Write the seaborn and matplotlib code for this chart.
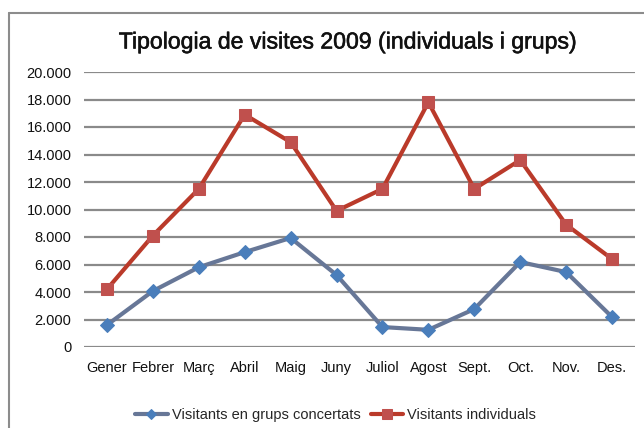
import matplotlib
matplotlib.use("Agg")
import matplotlib.pyplot as plt
from matplotlib.lines import Line2D
from matplotlib.ticker import FuncFormatter
import matplotlib.patheffects as pe
import seaborn as sns
import pandas as pd

months = ["Gener", "Febrer", "Març", "Abril", "Maig", "Juny", "Juliol",
          "Agost", "Sept.", "Oct.", "Nov.", "Des."]
grups = [1600, 4070, 5800, 6900, 7930, 5240, 1450, 1250, 2760, 6180, 5450, 2180]
individuals = [4200, 8100, 11500, 16900, 14900, 9900, 11500, 17800, 11500,
               13600, 8900, 6400]
series_names = ["Visitants en grups concertats", "Visitants individuals"]

sns.set_theme(style="white")
plt.rcParams["font.family"] = ["Liberation Sans", "DejaVu Sans"]

df = pd.DataFrame({
    "pos": list(range(len(months))) * 2,
    "value": grups + individuals,
    "serie": [series_names[0]] * len(months) + [series_names[1]] * len(months),
})

fig = plt.figure(figsize=(6.44, 4.28), dpi=100)
ax = fig.add_axes([84 / 644, (428 - 347) / 428, 551 / 644, 275 / 428])

styles = {
    series_names[0]: dict(color="#677797", marker="D", markersize=7,
                          markerfacecolor="#4A7EBB", markeredgecolor="#4A7EBB"),
    series_names[1]: dict(color="#BA3A2A", marker="s", markersize=9,
                          markerfacecolor="#C0504D", markeredgecolor="#C0504D"),
}
for name in series_names:
    sub = df[df["serie"] == name]
    sns.lineplot(data=sub, x="pos", y="value", ax=ax, linewidth=3,
                 label=name, zorder=3, **styles[name])

ax.set_xlim(-0.5, len(months) - 0.5)
ax.set_ylim(0, 20000)
ax.set_yticks(range(0, 20001, 2000))
ax.yaxis.set_major_formatter(FuncFormatter(lambda v, p: f"{int(v):,}".replace(",", ".")))
ax.set_xticks(range(len(months)))
ax.set_xticklabels(months)
ax.set_xlabel("")
ax.set_ylabel("")
ax.grid(axis="y", color="#8A8A8A", linewidth=1.6)
ax.set_axisbelow(True)
for s in ax.spines.values():
    s.set_visible(False)
ax.tick_params(axis="y", length=0, pad=9, labelsize=10.5, labelcolor="#111111")
ax.tick_params(axis="x", length=0, pad=10, labelsize=10.5, labelcolor="#111111")

ax.legend(loc="upper center", bbox_to_anchor=(0.457, -0.175), ncol=2, frameon=False,
          fontsize=10.5, handlelength=2.2, handletextpad=0.3, columnspacing=0.7,
          markerscale=0.75)

fig.text(0.538, 1 - 42 / 428, "Tipologia de visites 2009 (individuals i grups)",
         ha="center", va="center", fontsize=16.6, color="#111111",
         path_effects=[pe.withStroke(linewidth=0.4, foreground="#111111")])

# chart frame (left and top edges)
fig.add_artist(Line2D([9 / 644, 9 / 644], [0, 1 - 13 / 428], transform=fig.transFigure,
                      color="#8C8C8C", linewidth=1.5))
fig.add_artist(Line2D([9 / 644, 1], [1 - 13 / 428, 1 - 13 / 428], transform=fig.transFigure,
                      color="#8C8C8C", linewidth=1.5))

fig.savefig("out.png", dpi=100)
